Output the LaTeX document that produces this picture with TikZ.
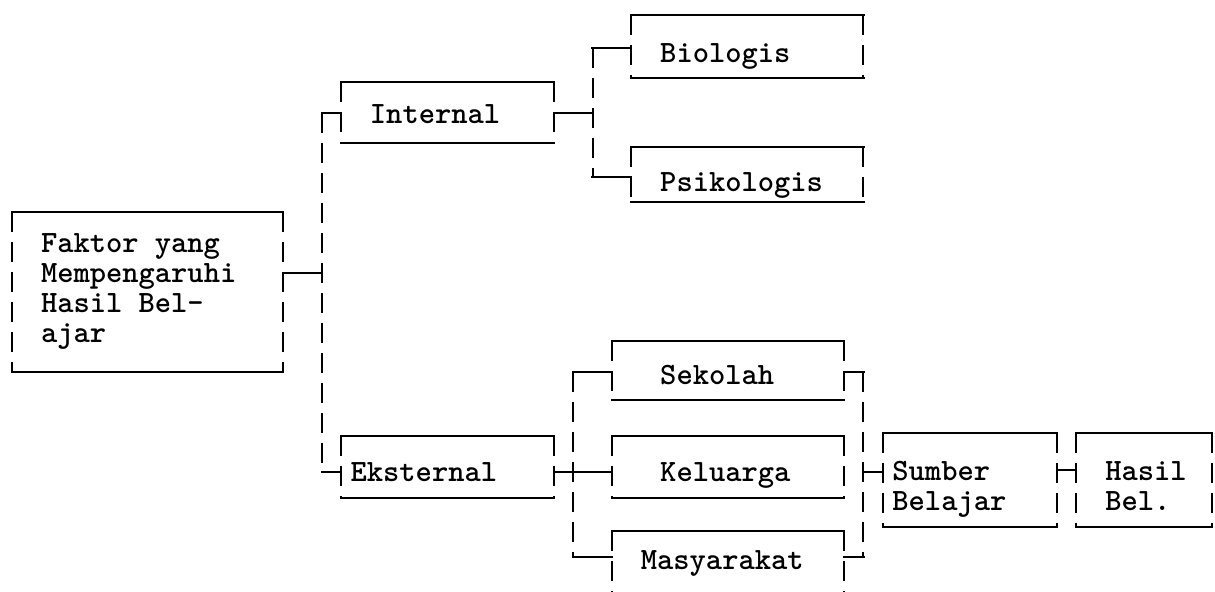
\documentclass[tikz,border=0pt]{standalone}
\usepackage{fontspec}
\newcommand\bxc[4]{\makebox[#1][l]{\hspace*{#2}\raisebox{#3}[\height][\depth]{\begin{tabular}{@{}l@{}}#4\end{tabular}}}}
\tikzset{
  box/.style={rectangle, inner sep=0pt, outer sep=0pt,
    font=\ttfamily\bfseries\fontsize{15.5}{15}\selectfont\addfontfeatures{LetterSpace=9.92}},
  hl/.style={line width=1.1pt, line cap=rect},
  vl/.style={line width=1pt, dash pattern=on 10pt off 5pt},
}
\begin{document}
\begin{tikzpicture}[x=0.5pt, y=-0.5pt]
\fill[white] (0,0) rectangle (1215,592);
\useasboundingbox (0,0) rectangle (1215,592);
% boxes
\node[box, minimum height=80pt] (fak) at (147.45,292)
  {\bxc{135.45pt}{14.51pt}{0pt}{Faktor yang\\Mempengaruhi\\Hasil Bel-\\ajar}};
\node[box, minimum height=30.5pt] (int) at (447.375,112.5)
  {\bxc{106.43pt}{14.51pt}{-2.5pt}{Internal}};
\node[box, minimum height=31pt] (ext) at (447.375,467)
  {\bxc{106.43pt}{4.84pt}{-4.2pt}{Eksternal}};
\node[box, minimum height=31.5pt] (bio) at (747.3,46.5)
  {\bxc{116.1pt}{14.51pt}{-5pt}{Biologis}};
\node[box, minimum height=27.5pt] (psi) at (747.3,174.5)
  {\bxc{116.1pt}{14.51pt}{-5.4pt}{Psikologis}};
\node[box, minimum height=29.5pt] (sek) at (727.95,370.5)
  {\bxc{116.1pt}{24.19pt}{-4pt}{Sekolah}};
\node[box, minimum height=31pt] (kel) at (727.95,467)
  {\bxc{116.1pt}{24.19pt}{-4.2pt}{Keluarga}};
\node[box, minimum height=30.5pt] (mas) at (727.95,561.5)
  {\bxc{116.1pt}{14.51pt}{-1pt}{Masyarakat}};
\node[box, minimum height=47pt] (sum) at (969.825,480)
  {\bxc{87.08pt}{4.84pt}{-4.7pt}{Sumber\\Belajar}};
\node[box, minimum height=47pt] (has) at (1143.975,480)
  {\bxc{67.73pt}{14.51pt}{-4.7pt}{Hasil\\Bel.}};
% frames
\foreach \n in {fak,int,ext,bio,psi,sek,kel,sum,has}{
  \draw[hl] (\n.north west) -- (\n.north east);
  \draw[hl] (\n.south west) -- (\n.south east);
  \draw[vl] (\n.north west) -- (\n.south west);
  \draw[vl] (\n.north east) -- (\n.south east);
}
\draw[hl] (mas.north west) -- (mas.north east);
\draw[vl] (mas.north west) -- (mas.south west);
\draw[vl] (mas.north east) -- (mas.south east);
% junction coordinates
\coordinate (a1) at (321.6,113);
\coordinate (a0) at (321.6,273);
\coordinate (a2) at (321.6,472);
\coordinate (b1) at (592.5,48);
\coordinate (b0) at (592.5,113);
\coordinate (b2) at (592.5,177);
\coordinate (c1) at (573.15,372);
\coordinate (c0) at (573.15,472);
\coordinate (c2) at (573.15,557);
\coordinate (d1) at (863.4,372);
\coordinate (d0) at (863.4,472);
\coordinate (d2) at (863.4,557);
\coordinate (e0) at (1066,470);
% connectors
\draw[vl] (a1) -- (a2);
\draw[hl] (a1) -- (int.west |- a1);
\draw[hl] (a2) -- (ext.west |- a2);
\draw[hl] (fak.east |- a0) -- (a0);
\draw[vl] (b1) -- (b2);
\draw[hl] (int.east |- b0) -- (b0);
\draw[hl] (b1) -- (bio.west |- b1);
\draw[hl] (b2) -- (psi.west |- b2);
\draw[vl] (c1) -- (c2);
\draw[hl] (c1) -- (sek.west |- c1);
\draw[hl] (c2) -- (mas.west |- c2);
\draw[hl] (ext.east |- c0) -- (kel.west |- c0);
\draw[vl] (d1) -- (d2);
\draw[hl] (sek.east |- d1) -- (d1);
\draw[hl] (mas.east |- d2) -- (d2);
\draw[hl] (d0) -- (sum.west |- d0);
\draw[hl] (sum.east |- e0) -- (has.west |- e0);
\end{tikzpicture}
\end{document}
